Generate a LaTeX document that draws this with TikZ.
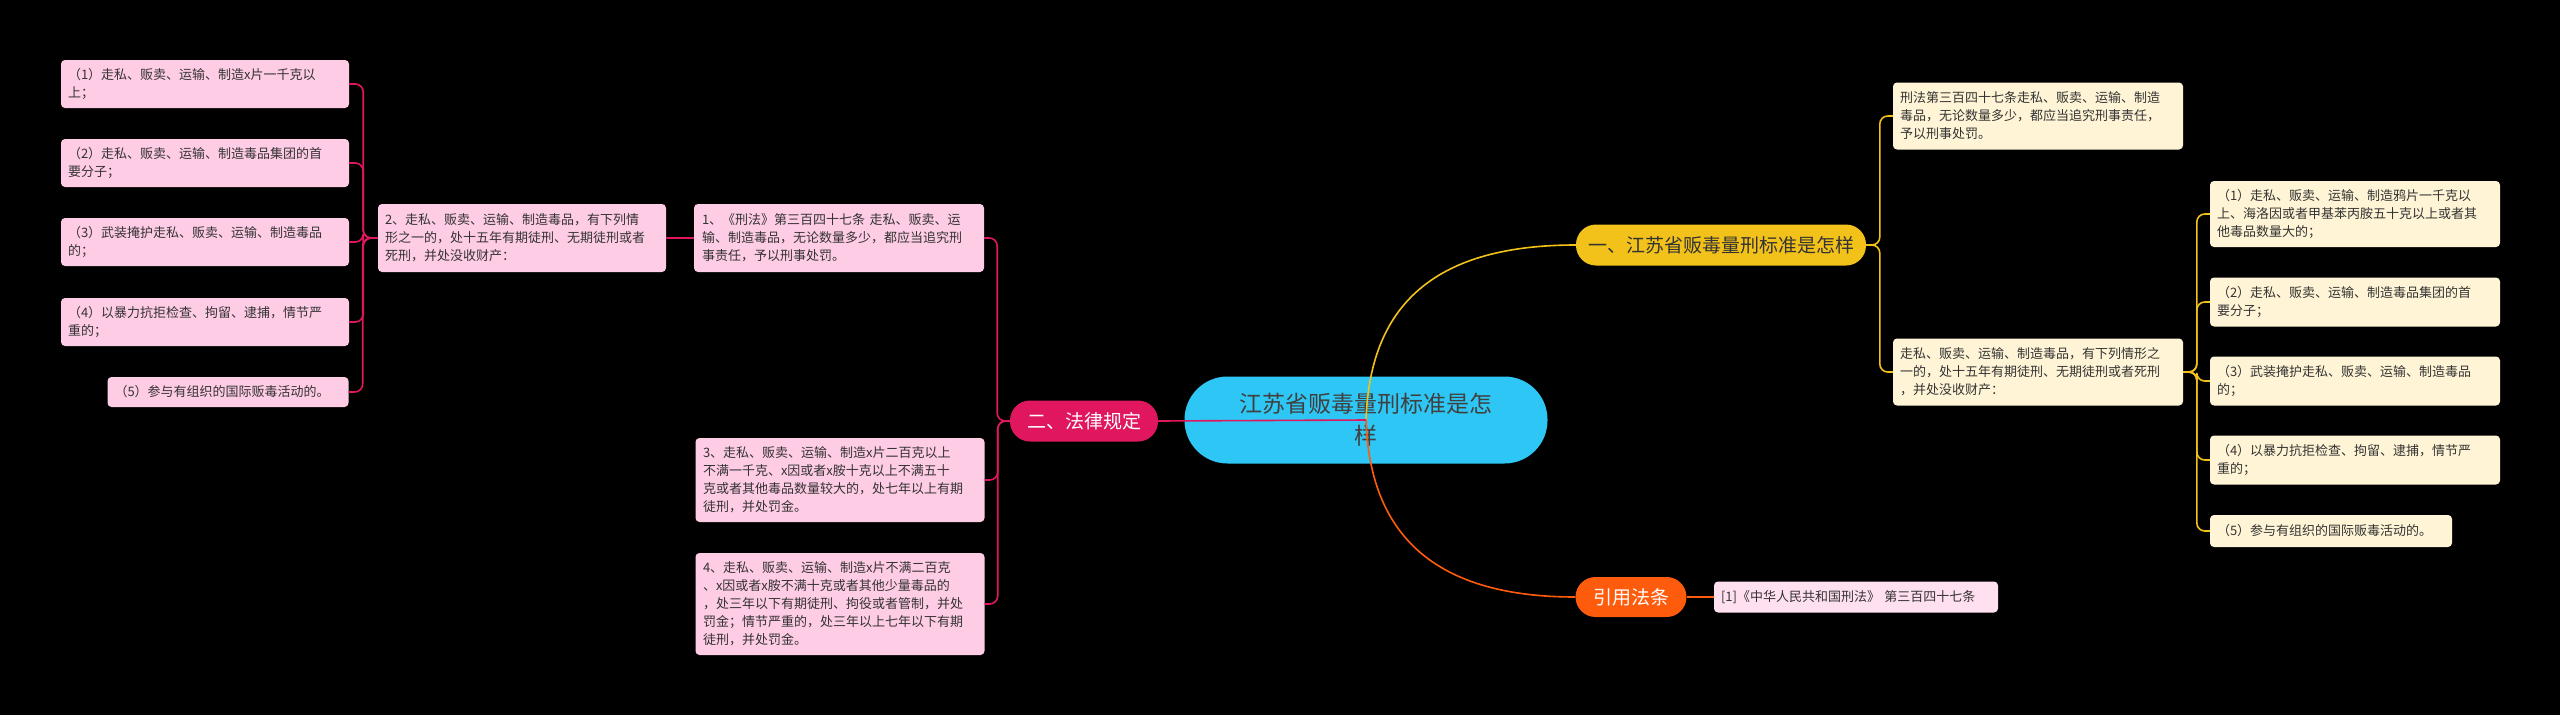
\documentclass[tikz,border=0pt]{standalone}
\usepackage{fontspec}
\setmainfont{Noto Sans CJK SC}
\begin{document}
\begin{tikzpicture}[x=1pt,y=-1pt,
 box/.style={rounded corners=4pt,inner sep=0pt,align=left,font=\fontsize{13}{18}\selectfont,text=black!80},
 pk/.style={box,fill=pink!40!white,fill=cPk},
 yl/.style={box,fill=cYl},
 pline/.style={draw=cPl,line width=1.6pt,rounded corners=8pt},
 yline/.style={draw=cYline,line width=1.6pt,rounded corners=8pt},
]
\definecolor{cPk}{HTML}{FFCCE6}
\definecolor{cPl}{HTML}{E0175F}
\definecolor{cYl}{HTML}{FFF5D6}
\definecolor{cYline}{HTML}{F2C21B}
\definecolor{cOr}{HTML}{FF5B0D}
\definecolor{cCy}{HTML}{2EC6F4}
\useasboundingbox (0,0) rectangle (2560,715);
\fill[black] (0,0) rectangle (2560,715);

% center
\node[fill=cCy,rounded corners=43pt,minimum width=363,minimum height=87,align=center,font=\fontsize{23}{32}\selectfont,text=black!75] (C) at (1366,420) {江苏省贩毒量刑标准是怎\\样};

% level 1
\node[fill=cPl,rounded corners=20pt,minimum width=148,minimum height=41,text=white,font=\fontsize{19}{22}\selectfont] (B2) at (1084,421) {二、法律规定};
\node[fill=cYline,rounded corners=20pt,minimum width=290,minimum height=41,text=black!80,font=\fontsize{19}{22}\selectfont] (B1) at (1721,245) {一、江苏省贩毒量刑标准是怎样};
\node[fill=cOr,rounded corners=20pt,minimum width=111,minimum height=40,text=white,font=\fontsize{19}{22}\selectfont] (B3) at (1631,597) {引用法条};

% left side
\node[pk,minimum width=290,minimum height=68,text width=274] (M1) at (839,238) {1、《刑法》第三百四十七条 走私、贩卖、运\\输、制造毒品，无论数量多少，都应当追究刑\\事责任，予以刑事处罚。};
\node[pk,minimum width=288,minimum height=68,text width=274] (M2) at (522,238) {2、走私、贩卖、运输、制造毒品，有下列情\\形之一的，处十五年有期徒刑、无期徒刑或者\\死刑，并处没收财产：};
\node[pk,minimum width=289,minimum height=84,text width=274] (M3) at (840,480) {3、走私、贩卖、运输、制造x片二百克以上\\不满一千克、x因或者x胺十克以上不满五十\\克或者其他毒品数量较大的，处七年以上有期\\徒刑，并处罚金。};
\node[pk,minimum width=289,minimum height=102,text width=274] (M4) at (840,604) {4、走私、贩卖、运输、制造x片不满二百克\\、x因或者x胺不满十克或者其他少量毒品的\\，处三年以下有期徒刑、拘役或者管制，并处\\罚金；情节严重的，处三年以上七年以下有期\\徒刑，并处罚金。};
\node[pk,minimum width=288,minimum height=48,text width=274] (L1) at (205,84) {（1）走私、贩卖、运输、制造x片一千克以\\上；};
\node[pk,minimum width=288,minimum height=48,text width=274] (L2) at (205,163) {（2）走私、贩卖、运输、制造毒品集团的首\\要分子；};
\node[pk,minimum width=288,minimum height=48,text width=274] (L3) at (205,242) {（3）武装掩护走私、贩卖、运输、制造毒品\\的；};
\node[pk,minimum width=288,minimum height=48,text width=274] (L4) at (205,322) {（4）以暴力抗拒检查、拘留、逮捕，情节严\\重的；};
\node[pk,minimum width=241,minimum height=30,text width=227] (L5) at (228,392) {（5）参与有组织的国际贩毒活动的。};

% right side
\node[yl,minimum width=290,minimum height=67,text width=276] (R1) at (2038,116) {刑法第三百四十七条走私、贩卖、运输、制造\\毒品，无论数量多少，都应当追究刑事责任，\\予以刑事处罚。};
\node[yl,minimum width=290,minimum height=67,text width=276] (R2) at (2038,372) {走私、贩卖、运输、制造毒品，有下列情形之\\一的，处十五年有期徒刑、无期徒刑或者死刑\\，并处没收财产：};
\node[yl,minimum width=290,minimum height=66,text width=276] (S1) at (2355,214) {（1）走私、贩卖、运输、制造鸦片一千克以\\上、海洛因或者甲基苯丙胺五十克以上或者其\\他毒品数量大的；};
\node[yl,minimum width=290,minimum height=49,text width=276] (S2) at (2355,302) {（2）走私、贩卖、运输、制造毒品集团的首\\要分子；};
\node[yl,minimum width=290,minimum height=49,text width=276] (S3) at (2355,381) {（3）武装掩护走私、贩卖、运输、制造毒品\\的；};
\node[yl,minimum width=290,minimum height=49,text width=276] (S4) at (2355,460) {（4）以暴力抗拒检查、拘留、逮捕，情节严\\重的；};
\node[yl,minimum width=242,minimum height=32,text width=228] (S5) at (2331,531) {（5）参与有组织的国际贩毒活动的。};
\node[box,fill=cPk!60!white,minimum width=284,minimum height=31,text width=270] (Q1) at (1856,597) {[1]《中华人民共和国刑法》 第三百四十七条};

% connectors from center
\draw[cYline,line width=1.6pt] (C.center) .. controls (1370,300) and (1440,245) .. (B1.west);
\draw[cOr,line width=1.6pt] (C.center) .. controls (1370,540) and (1440,597) .. (B3.west);
\draw[cPl,line width=1.6pt] (C.center) -- (B2.east);
\draw[cOr,line width=1.6pt] (B3.east) -- (Q1.west);

% left brackets
\foreach \n in {M1,M3,M4} \draw[pline] (B2.west) -| ([xshift=13]\n.east) -- (\n.east);
\draw[pline] (M1.west) -- (M2.east);
\foreach \n in {L1,L2,L3,L4,L5} \draw[pline] (M2.west) -| ([xshift=14]\n.east) -- (\n.east);

% right brackets
\foreach \n in {R1,R2} \draw[yline] (B1.east) -| ([xshift=-13]\n.west) -- (\n.west);
\foreach \n in {S1,S2,S3,S4,S5} \draw[yline] (R2.east) -| ([xshift=-13]\n.west) -- (\n.west);
\end{tikzpicture}
\end{document}
